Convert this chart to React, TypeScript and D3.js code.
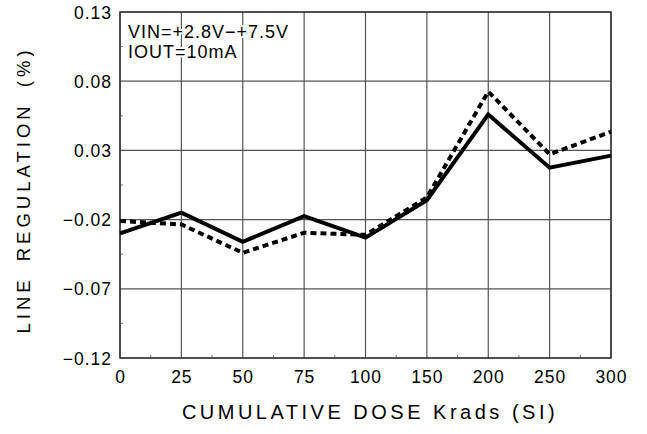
import * as d3 from 'd3'
import React from 'react'

const doses = ['0', '25', '50', '75', '100', '150', '200', '250', '300']
const solidValues = [-0.03, -0.015, -0.036, -0.0175, -0.033, -0.006, 0.056, 0.0175, 0.0262]
const dashedValues = [-0.021, -0.0235, -0.044, -0.0295, -0.031, -0.004, 0.0725, 0.0272, 0.0435]
const yTicks = [0.13, 0.08, 0.03, -0.02, -0.07, -0.12]
const notes = ['VIN=+2.8V\u2212+7.5V', 'IOUT=10mA']

const W = 647
const H = 434
const left = 120
const right = 611
const top = 12
const bottom = 358
const font = 'Liberation Sans, DejaVu Sans, sans-serif'

export default function App() {
  const x = d3.scalePoint<string>().domain(doses).range([left, right])
  const y = d3.scaleLinear().domain([-0.12, 0.13]).range([bottom, top])

  const line = d3
    .line<number>()
    .x((_, i) => x(doses[i]) ?? 0)
    .y((d) => y(d))

  const midX = doses.slice(1).map((d, i) => ((x(doses[i]) ?? 0) + (x(d) ?? 0)) / 2)
  const midY = yTicks.slice(1).map((t, i) => (y(yTicks[i]) + y(t)) / 2)

  return (
    <svg
      width={W}
      height={H}
      style={{ position: 'absolute', left: 0, top: 0, background: '#fff' }}
      fontFamily={font}
    >
      {/* grid */}
      {doses.map((d) => (
        <line key={'gx' + d} x1={x(d)} x2={x(d)} y1={top} y2={bottom} stroke="#555" strokeWidth={1.2} />
      ))}
      {yTicks.map((t) => (
        <line key={'gy' + t} x1={left} x2={right} y1={y(t)} y2={y(t)} stroke="#555" strokeWidth={1.2} />
      ))}
      {midX.map((m) => (
        <line key={'mx' + m} x1={m} x2={m} y1={bottom} y2={bottom - 3} stroke="#777" strokeWidth={1} />
      ))}
      {midY.map((m) => (
        <line key={'my' + m} x1={left} x2={left + 3} y1={m} y2={m} stroke="#777" strokeWidth={1} />
      ))}
      <rect x={left} y={top} width={right - left} height={bottom - top} fill="none" stroke="#333" strokeWidth={1.5} />

      {/* notes */}
      {notes.map((n, i) => (
        <text
          key={n}
          x={128}
          y={37.5 + i * 20.5}
          fontSize={18}
          fill="#000"
          stroke="#fff"
          strokeWidth={4}
          paintOrder="stroke"
          letterSpacing={1}
        >
          {n}
        </text>
      ))}

      {/* series */}
      <path d={line(dashedValues) ?? ''} fill="none" stroke="#000" strokeWidth={4} strokeDasharray="6,4" />
      <path d={line(solidValues) ?? ''} fill="none" stroke="#000" strokeWidth={4} strokeLinejoin="miter" />

      {/* y tick labels */}
      {yTicks.map((t) => (
        <text key={'yl' + t} x={112} y={y(t) + 6.5} textAnchor="end" fontSize={17.5} letterSpacing={1}>
          {(t < 0 ? '\u2212' : '') + Math.abs(t).toFixed(2)}
        </text>
      ))}
      {/* x tick labels */}
      {doses.map((d) => (
        <text key={'xl' + d} x={(x(d) ?? 0) + 0.5} y={383} textAnchor="middle" fontSize={17.5} letterSpacing={1}>
          {d}
        </text>
      ))}

      <text x={370} y={419} textAnchor="middle" fontSize={20} letterSpacing={3.5}>
        CUMULATIVE DOSE Krads (SI)
      </text>
      <text
        transform={`translate(30,190) rotate(-90)`}
        textAnchor="middle"
        fontSize={18.5}
        letterSpacing={4}
        wordSpacing={6}
      >
        LINE REGULATION (%)
      </text>
    </svg>
  )
}
